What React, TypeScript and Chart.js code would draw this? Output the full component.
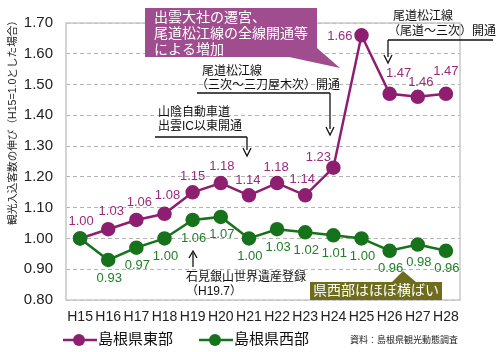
import React, { useEffect, useRef } from "react";
import { Chart, registerables } from "chart.js";

Chart.register(...registerables);

const categories = ["H15", "H16", "H17", "H18", "H19", "H20", "H21", "H22", "H23", "H24", "H25", "H26", "H27", "H28"];
const eastValues = [1.0, 1.03, 1.06, 1.08, 1.15, 1.18, 1.14, 1.18, 1.14, 1.23, 1.66, 1.47, 1.46, 1.47];
const westValues = [1.0, 0.93, 0.97, 1.0, 1.06, 1.07, 1.0, 1.03, 1.02, 1.01, 1.0, 0.96, 0.98, 0.96];
const yTicks = [0.8, 0.9, 1.0, 1.1, 1.2, 1.3, 1.4, 1.5, 1.6, 1.7];
const eastName = "島根県東部";
const westName = "島根県西部";
const yTitle = "観光入込客数の伸び（H15=1.0とした場合）";
const sourceText = "資料：島根県観光動態調査";

const FONT = "'Liberation Sans', 'Noto Sans CJK JP', sans-serif";
const EAST = "#8e1f70";
const EAST_LABEL = "#9a2b80";
const WEST = "#17731b";
const WEST_LABEL = "#1f7f24";

// label offsets (dx, dy, align) for east series
const eastLabelPos: [number, number, CanvasTextAlign][] = [
  [1, -17, "center"], [3, -18, "center"], [3, -18, "center"], [3, -18, "center"],
  [0, -16, "center"], [1, -17, "center"], [-1, -15, "center"], [-1, -16, "center"],
  [-3, -16, "center"], [-15, -10, "center"], [-9, 1, "right"], [9, -20, "center"],
  [3, -14, "center"], [0, -22, "center"],
];

const annotationPlugin = {
  id: "annos",
  beforeDatasetsDraw(chart: any) {
    const { ctx, chartArea } = chart;
    ctx.save();
    ctx.strokeStyle = "#c8c8c8";
    ctx.lineWidth = 1.5;
    ctx.strokeRect(chartArea.left, chartArea.top, chartArea.right - chartArea.left, chartArea.bottom - chartArea.top);
    ctx.restore();
  },
  afterDatasetsDraw(chart: any) {
    const { ctx } = chart;
    ctx.save();
    ctx.font = `13px ${FONT}`;
    ctx.textBaseline = "middle";
    const eastMeta = chart.getDatasetMeta(1);
    const westMeta = chart.getDatasetMeta(0);
    eastMeta.data.forEach((pt: any, i: number) => {
      const [dx, dy, al] = eastLabelPos[i];
      ctx.fillStyle = EAST_LABEL;
      ctx.textAlign = al;
      ctx.fillText(eastValues[i].toFixed(2), pt.x + dx, pt.y + dy);
    });
    westMeta.data.forEach((pt: any, i: number) => {
      if (i === 0) return;
      ctx.fillStyle = WEST_LABEL;
      ctx.textAlign = "center";
      ctx.fillText(westValues[i].toFixed(2), pt.x + 1, pt.y + 18);
    });
    ctx.restore();
  },
  afterDraw(chart: any) {
    const { ctx } = chart;
    ctx.save();

    const arrowDown = (x: number, y1: number, y2: number) => {
      ctx.beginPath();
      ctx.moveTo(x, y1);
      ctx.lineTo(x, y2 - 6);
      ctx.stroke();
      ctx.beginPath();
      ctx.moveTo(x - 4, y2 - 8);
      ctx.lineTo(x, y2);
      ctx.lineTo(x + 4, y2 - 8);
      ctx.stroke();
    };

    // purple callout
    ctx.fillStyle = "#a04d8f";
    ctx.beginPath();
    ctx.moveTo(145, 8);
    ctx.lineTo(317, 8);
    ctx.lineTo(317, 48);
    ctx.lineTo(340, 68);
    ctx.lineTo(289, 57);
    ctx.lineTo(145, 57);
    ctx.closePath();
    ctx.fill();
    ctx.fillStyle = "#ffffff";
    ctx.font = `14px ${FONT}`;
    ctx.textAlign = "left";
    ctx.textBaseline = "middle";
    ctx.fillText("出雲大社の遷宮、", 154, 18);
    ctx.fillText("尾道松江線の全線開通等", 154, 34);
    ctx.fillText("による増加", 154, 50);

    // olive callout
    ctx.fillStyle = "#6e6d1d";
    ctx.beginPath();
    ctx.moveTo(310, 282);
    ctx.lineTo(392, 282);
    ctx.lineTo(403, 271);
    ctx.lineTo(416, 282);
    ctx.lineTo(442, 282);
    ctx.lineTo(442, 300);
    ctx.lineTo(310, 300);
    ctx.closePath();
    ctx.fill();
    ctx.fillStyle = "#ffffff";
    ctx.font = `14px ${FONT}`;
    ctx.textAlign = "center";
    ctx.fillText("県西部はほぼ横ばい", 376, 291.5);

    // black annotations
    ctx.fillStyle = "#111";
    ctx.strokeStyle = "#111";
    ctx.lineWidth = 1.3;
    ctx.font = `12px ${FONT}`;
    ctx.textAlign = "left";

    ctx.fillText("尾道松江線", 202, 72);
    ctx.fillText("（三次〜三刀屋木次）開通", 196, 86);
    ctx.beginPath();
    ctx.moveTo(197, 93);
    ctx.lineTo(330, 93);
    ctx.stroke();
    arrowDown(330, 93, 135);

    ctx.fillText("山陰自動車道", 158, 113);
    ctx.fillText("出雲IC以東開通", 158, 127);
    ctx.beginPath();
    ctx.moveTo(155, 137);
    ctx.lineTo(247, 137);
    ctx.stroke();
    arrowDown(247, 137, 156);

    ctx.fillText("尾道松江線", 393, 17);
    ctx.fillText("（尾道〜三次）開通", 388, 32);
    ctx.beginPath();
    ctx.moveTo(388, 40);
    ctx.lineTo(493, 40);
    ctx.stroke();
    arrowDown(388, 40, 63);

    // up arrow H19
    ctx.beginPath();
    ctx.moveTo(193, 267);
    ctx.lineTo(193, 253);
    ctx.stroke();
    ctx.beginPath();
    ctx.moveTo(189, 258);
    ctx.lineTo(193, 251);
    ctx.lineTo(197, 258);
    ctx.stroke();
    ctx.fillText("石見銀山世界遺産登録", 186, 278);
    ctx.fillText("（H19.7）", 186, 292);

    // y title
    ctx.save();
    ctx.translate(13, 120);
    ctx.rotate(-Math.PI / 2);
    ctx.font = `12px ${FONT}`;
    const w = ctx.measureText(yTitle).width;
    const size = 12 * 210 / w;
    ctx.font = `${size.toFixed(2)}px ${FONT}`;
    ctx.textAlign = "center";
    ctx.fillStyle = "#222";
    ctx.fillText(yTitle, 0, 0);
    ctx.restore();

    // legend
    const drawLeg = (x: number, color: string, label: string) => {
      ctx.strokeStyle = color;
      ctx.lineWidth = 2.5;
      ctx.beginPath();
      ctx.moveTo(x, 340);
      ctx.lineTo(x + 34, 340);
      ctx.stroke();
      ctx.fillStyle = color;
      ctx.beginPath();
      ctx.arc(x + 16, 340, 6, 0, Math.PI * 2);
      ctx.fill();
      ctx.fillStyle = "#111";
      ctx.font = `15px ${FONT}`;
      ctx.textAlign = "left";
      ctx.fillText(label, x + 35, 340);
    };
    drawLeg(63, EAST, eastName);
    drawLeg(199, WEST, westName);

    ctx.font = `9px ${FONT}`;
    ctx.fillStyle = "#222";
    ctx.textAlign = "left";
    ctx.fillText(sourceText, 350, 341);

    ctx.restore();
  },
};

export default function App() {
  const ref = useRef<HTMLCanvasElement | null>(null);
  useEffect(() => {
    if (!ref.current) return;
    const chart = new Chart(ref.current, {
      type: "line",
      data: {
        labels: categories,
        datasets: [
          {
            label: westName,
            data: westValues,
            borderColor: WEST,
            backgroundColor: WEST,
            pointBackgroundColor: WEST,
            pointBorderColor: WEST,
            borderWidth: 2.5,
            pointRadius: 6,
            tension: 0,
          },
          {
            label: eastName,
            data: eastValues,
            borderColor: EAST,
            backgroundColor: EAST,
            pointBackgroundColor: EAST,
            pointBorderColor: EAST,
            borderWidth: 2.5,
            pointRadius: 6,
            tension: 0,
          },
        ],
      },
      options: {
        responsive: false,
        animation: false,
        layout: { padding: { top: 23, right: 40, bottom: 0, left: 0 } },
        plugins: { legend: { display: false }, tooltip: { enabled: false } },
        scales: {
          x: {
            offset: true,
            grid: { display: false, drawTicks: false },
            border: { display: false },
            ticks: { font: { family: FONT, size: 14 }, color: "#222", padding: 9, maxRotation: 0, autoSkip: false },
            afterFit: (s: any) => { s.height = 52; },
          },
          y: {
            min: 0.8,
            max: 1.7,
            grid: { color: "#b4b4b4", lineWidth: 1, drawTicks: false },
            border: { display: false, dash: [4, 3] },
            afterBuildTicks: (s: any) => { s.ticks = yTicks.map((v) => ({ value: v })); },
            ticks: {
              font: { family: FONT, size: 15 },
              color: "#222",
              padding: 13,
              callback: (v: any) => Number(v).toFixed(2),
            },
            afterFit: (s: any) => { s.width = 66; },
          },
        },
      },
      plugins: [annotationPlugin],
    });
    return () => chart.destroy();
  }, []);
  return (
    <div style={{ position: "fixed", left: 0, top: 0, width: 500, height: 352, background: "#fff" }}>
      <canvas ref={ref} width={500} height={352} style={{ display: "block" }} />
    </div>
  );
}
